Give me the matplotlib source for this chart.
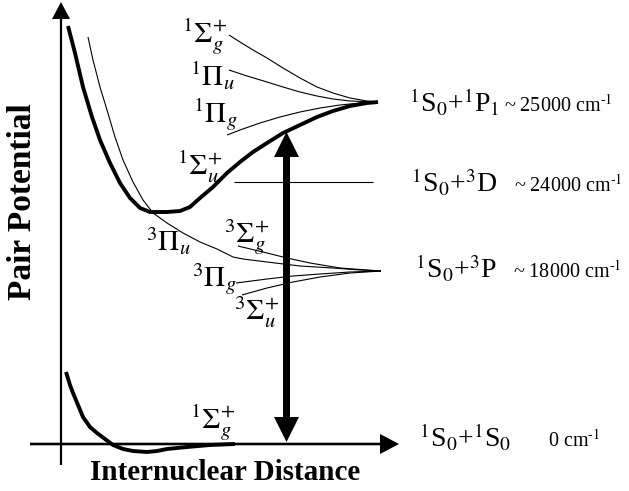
import matplotlib
matplotlib.use("Agg")
import matplotlib.pyplot as plt

plt.rcParams["font.family"] = ["Liberation Serif", "DejaVu Serif"]
plt.rcParams["mathtext.fontset"] = "stix"

# Все координаты в пикселях картинки (x вправо, y вниз)
W, H = 629, 491

# Оси: начало и конец стрелок
Y_AXIS = [(61, 465), (61, 2)]
X_AXIS = [(30, 444), (399, 444)]

# Переход 1S0 -> 1P1 (двойная стрелка)
TRANSITION_X = 286.5
TRANSITION_Y = [132, 442]

# Кривые, сходящиеся к 1S0+1P1
S1U_X = [68, 75, 83, 92, 100, 110, 120, 130, 140, 150, 167, 180, 190, 200,
         213, 227, 240, 253, 267, 283, 300, 317, 333, 350, 367, 378]
S1U_Y = [26, 53, 87, 117, 140, 163, 183, 198, 208, 212, 212, 211, 207, 198,
         187, 173, 162, 152, 143, 133, 125, 117, 111, 106, 103, 102]
S1G_X = [229, 240, 253, 267, 283, 300, 317, 333, 350, 367, 378]
S1G_Y = [35, 42, 50, 58, 68, 78, 87, 93, 98, 101, 102]
P1U_X = [229, 247, 267, 283, 300, 317, 333, 350, 378]
P1U_Y = [70, 76, 82, 87, 92, 96, 99, 101, 102]
P1G_X = [227, 240, 260, 280, 300, 320, 340, 360, 378]
P1G_Y = [135, 130, 123, 117, 112, 108, 105, 103, 102]

# Уровень 1S0+3D
D3_X = [234, 373]
D3_Y = [182, 182]

# Кривые, сходящиеся к 1S0+3P
P3U_X = [88, 93, 100, 107, 115, 123, 133, 143, 153, 167, 183, 200, 217,
         233, 243, 267, 300, 333, 360, 381]
P3U_Y = [37, 60, 87, 110, 137, 160, 182, 200, 213, 223, 233, 242, 249,
         257, 259, 262, 266, 268, 270, 271]
S3G_X = [238, 267, 287, 310, 340, 381]
S3G_Y = [246, 253, 258, 263, 268, 271]
P3G_X = [236, 267, 293, 320, 350, 381]
P3G_Y = [283, 279, 276, 274, 272, 271]
S3U_X = [242, 267, 293, 320, 350, 381]
S3U_Y = [295, 288, 282, 277, 273, 271]

# Основное состояние
GROUND_X = [66, 70, 73, 78, 83, 90, 97, 105, 113, 123, 133, 147, 157, 167,
            187, 210, 235]
GROUND_Y = [372, 385, 393, 405, 417, 427, 433, 439, 445, 449, 451, 452, 451,
            449, 447, 445, 444]

# Подписи асимптот
ASYMPTOTES = [r"${}^{1}$S$_{0}$+${}^{1}$P$_{1}$", r"${}^{1}$S$_{0}$+${}^{3}$D",
              r"${}^{1}$S$_{0}$+${}^{3}$P", r"${}^{1}$S$_{0}$+${}^{1}$S$_{0}$"]
ENERGIES = [r"~ 25000 cm$^{\text{-1}}$", r"~ 24000 cm$^{\text{-1}}$",
            r"~ 18000 cm$^{\text{-1}}$", r"0 cm$^{\text{-1}}$"]
TERMS = [r"${}^{1}\Sigma_{g}^{+}$", r"${}^{1}\Pi_{u}$", r"${}^{1}\Pi_{g}$",
         r"${}^{1}\Sigma_{u}^{+}$", r"${}^{3}\Pi_{u}$", r"${}^{3}\Sigma_{g}^{+}$",
         r"${}^{3}\Pi_{g}$", r"${}^{3}\Sigma_{u}^{+}$", r"${}^{1}\Sigma_{g}^{+}$"]

fig = plt.figure(figsize=(W / 100, H / 100), dpi=100)
ax = fig.add_axes([0, 0, 1, 1])
ax.set_xlim(0, W)
ax.set_ylim(H, 0)
ax.axis("off")


def axisArrow(p0, p1, width, head_w, head_l):
    ax.arrow(p0[0], p0[1], p1[0] - p0[0], p1[1] - p0[1], width=width,
             head_width=head_w, head_length=head_l, length_includes_head=True,
             color="black", linewidth=0)


axisArrow(*Y_AXIS, 2.2, 18, 17)
axisArrow(*X_AXIS, 2.6, 20, 19)

# двойная стрелка из середины в обе стороны
mid = (TRANSITION_Y[0] + TRANSITION_Y[1]) / 2
axisArrow((TRANSITION_X, mid), (TRANSITION_X, TRANSITION_Y[0]), 7, 25, 25)
axisArrow((TRANSITION_X, mid), (TRANSITION_X, TRANSITION_Y[1]), 7, 25, 25)

thin = dict(color="black", linewidth=0.8, solid_capstyle="butt")
thick = dict(color="black", linewidth=2.8, solid_capstyle="butt",
             solid_joinstyle="round")
for xs, ys in [(S1G_X, S1G_Y), (P1U_X, P1U_Y), (P1G_X, P1G_Y), (D3_X, D3_Y),
               (P3U_X, P3U_Y), (S3G_X, S3G_Y), (P3G_X, P3G_Y), (S3U_X, S3U_Y)]:
    ax.plot(xs, ys, **thin)
ax.plot(S1U_X, S1U_Y, **thick)
ax.plot(GROUND_X, GROUND_Y, **thick)

# подписи справа
for label, x, y in zip(ASYMPTOTES, [409, 411, 415, 419], [112, 192, 278, 447]):
    ax.text(x, y, label, fontsize=20, ha="left", va="baseline")
for label, x, y in zip(ENERGIES, [504, 514, 513, 548], [112, 192, 278, 447]):
    ax.text(x, y, label, fontsize=14.5, ha="left", va="baseline")

# термы молекулы (привязаны правым краем)
term_pos = [(228, 42), (235, 86), (238, 123), (223, 175), (191, 251),
            (270, 243), (237, 287), (280, 320), (236, 428)]
for label, (x, y) in zip(TERMS, term_pos):
    ax.text(x, y, label, fontsize=21, ha="right", va="baseline")

ax.text(225, 473, "Internuclear Distance", fontsize=21, fontweight="bold",
        ha="center", va="center")
ax.text(23, 202, "Pair Potential", fontsize=24, fontweight="bold",
        rotation=90, ha="center", va="center")

fig.savefig("out.png", dpi=100)
